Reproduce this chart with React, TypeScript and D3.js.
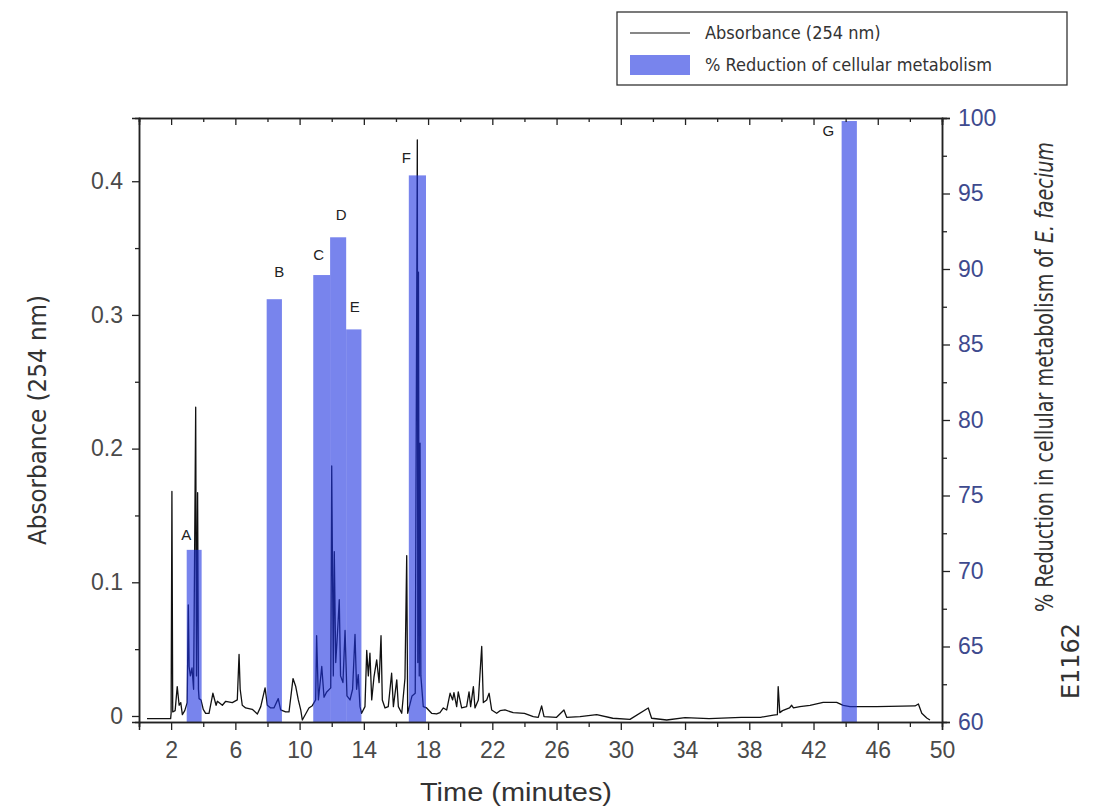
import React, { useEffect, useRef } from "react";
import * as d3 from "d3";

// chromatogram (minutes, absorbance at 254 nm)
const times = [
  0.5, 1.97, 2.0, 2.05, 2.1, 2.25, 2.38, 2.5, 2.6, 2.7, 2.85, 3.0, 3.07, 3.12, 3.2, 3.3, 3.4,
  3.53, 3.58, 3.65, 3.7, 3.74, 3.86, 4.0, 4.15, 4.36, 4.6, 4.8, 4.88, 5.19, 5.4, 5.81, 6.12,
  6.23, 6.3, 6.43, 6.64, 7.05, 7.37, 7.58, 7.85, 7.99, 8.2, 8.4, 8.67, 8.82, 9.13, 9.34, 9.59,
  9.76, 9.92, 10.07, 10.17, 10.58, 10.79, 11.0, 11.06, 11.17, 11.38, 11.52, 11.69, 11.94, 12.0,
  12.1, 12.16, 12.25, 12.35, 12.47, 12.55, 12.7, 12.83, 12.95, 13.14, 13.3, 13.45, 13.55, 13.65,
  13.76, 13.86, 14.07, 14.18, 14.28, 14.38, 14.49, 14.63, 14.8, 14.95, 15.07, 15.15, 15.32,
  15.52, 15.73, 15.84, 16.05, 16.15, 16.36, 16.56, 16.67, 16.73, 17.0, 17.2, 17.33, 17.36,
  17.4, 17.45, 17.5, 17.55, 17.7, 17.91, 18.22, 18.53, 18.74, 18.95, 19.16, 19.37, 19.53,
  19.61, 19.78, 19.88, 20.09, 20.4, 20.55, 20.65, 20.82, 20.92, 21.13, 21.34, 21.44, 21.65,
  21.8, 21.96, 22.27, 22.48, 22.79, 23.3, 24.0, 24.55, 24.86, 25.07, 25.22, 26.0, 26.46,
  26.63, 27.46, 28.5, 29.5, 30.57, 31.71, 31.92, 32.86, 34.0, 35.5, 37.5, 38.7, 39.5, 39.75,
  39.8, 39.9, 40.07, 40.5, 40.64, 40.75, 41.15, 41.78, 42.6, 43.44, 43.85, 44.27, 45.93,
  48.32, 48.53, 48.74, 49.05, 49.25,
];
const absorbance = [
  -0.002, -0.002, 0.002, 0.168, 0.003, 0.004, 0.022, 0.008, 0.01, 0.001, 0.004, 0.01, 0.083,
  0.037, 0.03, 0.036, 0.02, 0.231, 0.03, 0.167, 0.02, 0.013, 0.012, 0.005, 0.002, 0.002, 0.017,
  0.008, 0.011, 0.008, 0.011, 0.01, 0.012, 0.046, 0.02, 0.008, 0.006, 0.005, 0.0015, 0.007,
  0.021, 0.008, 0.006, 0.006, 0.013, 0.0045, 0.003, 0.003, 0.028, 0.022, 0.012, 0.0045, -0.003,
  0.006, 0.0077, 0.012, 0.06, 0.012, 0.037, 0.014, 0.018, 0.021, 0.187, 0.03, 0.123, 0.04, 0.06,
  0.087, 0.03, 0.025, 0.064, 0.015, 0.012, 0.02, 0.061, 0.02, 0.031, 0.007, 0.002, 0.007, 0.049,
  0.03, 0.047, 0.012, 0.029, 0.042, 0.025, 0.06, 0.012, 0.006, 0.007, 0.032, 0.007, 0.027,
  0.007, 0.002, 0.028, 0.12, 0.002, 0.015, 0.017, 0.431, 0.04, 0.332, 0.03, 0.204, 0.03, 0.007,
  0.006, 0.002, 0.0015, 0.0025, 0.006, 0.0045, 0.017, 0.012, 0.0175, 0.007, 0.018, 0.006,
  0.007, 0.018, 0.007, 0.022, 0.006, 0.012, 0.052, 0.01, 0.012, 0.017, 0.0045, 0.002, 0.004,
  0.0045, 0.0025, 0.002, -0.0005, -0.001, 0.0075, -0.0005, -0.001, 0.0045, -0.001, -0.0005,
  0.001, -0.0017, -0.0025, 0.006, -0.0017, -0.003, -0.0013, -0.002, -0.001, -0.001, 0.0007,
  0.001, 0.022, 0.0025, 0.004, 0.006, 0.008, 0.006, 0.007, 0.008, 0.0102, 0.0102, 0.008, 0.007,
  0.007, 0.0075, 0.009, 0.002, -0.0015, -0.003,
];

// collected fractions and their % reduction in metabolism
const fractions = ["A", "B", "C", "D", "E", "F", "G"];
const fractionStart = [2.97, 7.95, 10.85, 11.9, 12.9, 16.8, 43.75];
const fractionEnd = [3.9, 8.9, 11.9, 12.9, 13.85, 17.87, 44.7];
const reduction = [71.4, 88.0, 89.6, 92.1, 86.0, 96.2, 99.8];

const timeTicks = [2, 6, 10, 14, 18, 22, 26, 30, 34, 38, 42, 46, 50];
const timeMinor = [0, 4, 8, 12, 16, 20, 24, 28, 32, 36, 40, 44, 48];
const absTicks = [0, 0.1, 0.2, 0.3, 0.4];
const absMinor = [0.05, 0.15, 0.25, 0.35];
const redTicks = [60, 65, 70, 75, 80, 85, 90, 95, 100];
const redMinor = [62.5, 67.5, 72.5, 77.5, 82.5, 87.5, 92.5, 97.5];

// where each letter sits relative to the top of its bar (px)
const letterOffset = [
  [-8, -10],
  [5, -22],
  [-3, -15],
  [3, -17],
  [1, -17],
  [-11, -12],
  [-21, 15],
];

const BAR = "rgb(30,50,225)";
const narrow = "'DejaVu Sans Condensed', 'Liberation Sans Narrow', 'DejaVu Sans', sans-serif";
const sans = "'Liberation Sans', Arial, sans-serif";

const App = () => {
  const ref = useRef<SVGSVGElement>(null);

  useEffect(() => {
    document.body.style.margin = "0";
    draw();
  });

  const draw = () => {
    const width = 1097;
    const height = 810;
    const m = { left: 139, right: 155, top: 118, bottom: 88 };

    const svg = d3.select(ref.current);
    svg.selectAll("*").remove();

    const x = d3.scaleLinear().domain([0, 50]).range([m.left, width - m.right]);
    const y = d3.scaleLinear().domain([-0.0045, 0.4473]).range([height - m.bottom, m.top]);
    const yR = d3.scaleLinear().domain([60, 100]).range([height - m.bottom, m.top]);

    const bottom = height - m.bottom;
    const right = width - m.right;

    // absorbance trace
    const line = d3
      .line<number>()
      .x((d, i) => x(times[i]))
      .y((d) => y(d));

    svg
      .append("path")
      .datum(absorbance)
      .attr("d", line)
      .attr("fill", "none")
      .attr("stroke", "#111")
      .attr("stroke-width", 1.3)
      .attr("stroke-linejoin", "round");

    // fraction bars
    svg
      .append("g")
      .selectAll("rect")
      .data(reduction)
      .enter()
      .append("rect")
      .attr("x", (d, i) => x(fractionStart[i]))
      .attr("width", (d, i) => x(fractionEnd[i]) - x(fractionStart[i]))
      .attr("y", (d) => yR(d))
      .attr("height", (d) => bottom - yR(d))
      .attr("fill", BAR)
      .attr("fill-opacity", 0.6);

    svg
      .append("g")
      .selectAll("text")
      .data(fractions)
      .enter()
      .append("text")
      .attr("x", (d, i) => (x(fractionStart[i]) + x(fractionEnd[i])) / 2 + letterOffset[i][0])
      .attr("y", (d, i) => yR(reduction[i]) + letterOffset[i][1])
      .attr("text-anchor", "middle")
      .style("font-family", sans)
      .style("font-size", "15px")
      .attr("fill", "#222")
      .text((d) => d);

    const styleAxis = (g: any, color: string) => {
      g.select(".domain").attr("stroke", "#222").attr("stroke-width", 1.5);
      g.selectAll(".tick line").attr("stroke", "#222").attr("stroke-width", 1.3);
      g.selectAll("text")
        .attr("fill", color)
        .style("font-family", sans)
        .style("font-size", "23px");
    };

    // bottom axis
    const gx = svg
      .append("g")
      .attr("transform", `translate(0,${bottom})`)
      .call(d3.axisBottom(x).tickValues(timeTicks).tickSize(8).tickPadding(12).tickFormat(d3.format("d")));
    styleAxis(gx, "#4a4a4a");
    const gxm = svg
      .append("g")
      .attr("transform", `translate(0,${bottom})`)
      .call(d3.axisBottom(x).tickValues(timeMinor).tickSize(5).tickFormat(() => ""));
    styleAxis(gxm, "#4a4a4a");

    // top frame with inward ticks
    const gt = svg
      .append("g")
      .attr("transform", `translate(0,${m.top})`)
      .call(d3.axisTop(x).tickValues(timeTicks).tickSize(-7).tickFormat(() => ""));
    styleAxis(gt, "#4a4a4a");
    const gtm = svg
      .append("g")
      .attr("transform", `translate(0,${m.top})`)
      .call(d3.axisTop(x).tickValues(timeMinor).tickSize(-4).tickFormat(() => ""));
    styleAxis(gtm, "#4a4a4a");

    // left axis
    const gy = svg
      .append("g")
      .attr("transform", `translate(${m.left},0)`)
      .call(d3.axisLeft(y).tickValues(absTicks).tickSize(7).tickPadding(9).tickFormat((d: any) => (d === 0 ? "0" : d3.format(".1f")(d))));
    styleAxis(gy, "#4a4a4a");
    const gym = svg
      .append("g")
      .attr("transform", `translate(${m.left},0)`)
      .call(d3.axisLeft(y).tickValues(absMinor).tickSize(4).tickFormat(() => ""));
    styleAxis(gym, "#4a4a4a");

    // right axis
    const gr = svg
      .append("g")
      .attr("transform", `translate(${right},0)`)
      .call(d3.axisRight(yR).tickValues(redTicks).tickSize(8).tickPadding(8));
    styleAxis(gr, "#3e4a8e");
    const grm = svg
      .append("g")
      .attr("transform", `translate(${right},0)`)
      .call(d3.axisRight(yR).tickValues(redMinor).tickSize(5).tickFormat(() => ""));
    styleAxis(grm, "#3e4a8e");

    // axis titles
    svg
      .append("text")
      .attr("x", 516)
      .attr("y", 801)
      .attr("text-anchor", "middle")
      .style("font-family", sans)
      .style("font-size", "26px")
      .attr("textLength", 192)
      .attr("lengthAdjust", "spacingAndGlyphs")
      .attr("fill", "#333")
      .text("Time (minutes)");

    svg
      .append("text")
      .attr("transform", "translate(46,420) rotate(-90)")
      .attr("text-anchor", "middle")
      .style("font-family", narrow)
      .style("font-size", "25px")
      .attr("textLength", 250)
      .attr("lengthAdjust", "spacingAndGlyphs")
      .attr("fill", "#333")
      .text("Absorbance (254 nm)");

    const rt = svg
      .append("text")
      .attr("transform", "translate(1053,377) rotate(-90)")
      .attr("text-anchor", "middle")
      .style("font-family", narrow)
      .style("font-size", "24px")
      .attr("textLength", 470)
      .attr("lengthAdjust", "spacingAndGlyphs")
      .attr("fill", "#333");
    rt.append("tspan").text("% Reduction in cellular metabolism of ");
    rt.append("tspan").style("font-style", "italic").text("E. faecium");

    svg
      .append("text")
      .attr("transform", "translate(1079,661) rotate(-90)")
      .attr("text-anchor", "middle")
      .style("font-family", narrow)
      .style("font-size", "24px")
      .attr("textLength", 76)
      .attr("lengthAdjust", "spacingAndGlyphs")
      .attr("fill", "#333")
      .text("E1162");

    // legend
    const lg = svg.append("g");
    lg.append("rect")
      .attr("x", 617)
      .attr("y", 12)
      .attr("width", 450)
      .attr("height", 73)
      .attr("fill", "#fff")
      .attr("stroke", "#333")
      .attr("stroke-width", 1.3);
    lg.append("line")
      .attr("x1", 630)
      .attr("x2", 690)
      .attr("y1", 33)
      .attr("y2", 33)
      .attr("stroke", "#111")
      .attr("stroke-width", 1.2);
    lg.append("rect")
      .attr("x", 630)
      .attr("y", 55)
      .attr("width", 60)
      .attr("height", 20)
      .attr("fill", BAR)
      .attr("fill-opacity", 0.6);
    lg.selectAll(".lt")
      .data(["Absorbance (254 nm)", "% Reduction of cellular metabolism"])
      .enter()
      .append("text")
      .attr("x", 705)
      .attr("y", (d, i) => 33 + i * 32)
      .attr("dy", "0.35em")
      .style("font-family", narrow)
      .style("font-size", "18px")
      .attr("fill", "#333")
      .text((d) => d);
  };

  return <svg ref={ref} width={1097} height={810} style={{ display: "block", background: "#fff" }}></svg>;
};

export default App;
